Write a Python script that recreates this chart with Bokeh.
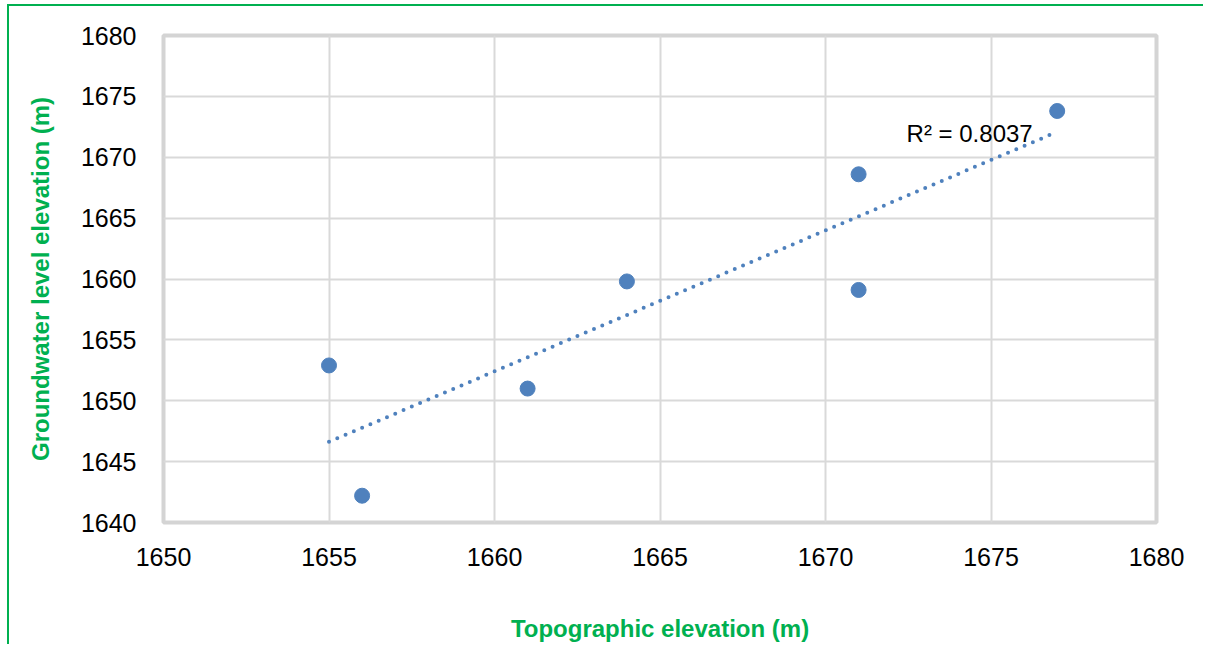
import numpy as np
from bokeh.plotting import figure
from bokeh.models import FixedTicker, Label, Range1d
from bokeh.embed import file_html
from bokeh.resources import INLINE

# data
topo = [1655, 1656, 1661, 1664, 1671, 1671, 1677]
gw = [1652.9, 1642.2, 1651.0, 1659.8, 1668.6, 1659.1, 1673.8]
x_ticks = [1650, 1655, 1660, 1665, 1670, 1675, 1680]
y_ticks = [1640, 1645, 1650, 1655, 1660, 1665, 1670, 1675, 1680]
r2_text = "R² = 0.8037"

GREEN = "#00B050"
BLUE = "#4F81BD"
FONT = "'Liberation Sans Narrow', 'Arial Narrow', 'Liberation Sans', Arial, sans-serif"
BOLD = "'Liberation Sans', Arial, sans-serif"

p = figure(width=1196, height=640, output_backend="svg", toolbar_location=None,
           x_range=Range1d(1650, 1680), y_range=Range1d(1640, 1680),
           min_border_left=154, min_border_right=49, min_border_top=29,
           min_border_bottom=124)
p.styles = {"border-top": f"2px solid {GREEN}", "border-left": f"2px solid {GREEN}",
            "margin-left": "7px", "margin-top": "4px"}

p.xaxis.ticker = FixedTicker(ticks=x_ticks)
p.yaxis.ticker = FixedTicker(ticks=y_ticks)
for ax in (p.xaxis[0], p.yaxis[0]):
    ax.axis_line_color = None
    ax.major_tick_line_color = None
    ax.minor_tick_line_color = None
    ax.major_label_text_font = FONT
    ax.major_label_text_font_size = "25px"
    ax.major_label_text_color = "black"
    ax.axis_label_text_font = BOLD
    ax.axis_label_text_font_style = "bold"
    ax.axis_label_text_font_size = "24px"
    ax.axis_label_text_color = GREEN

p.xaxis.major_label_standoff = 19
p.yaxis.major_label_standoff = 21
p.xaxis.axis_label = "Topographic elevation (m)"
p.yaxis.axis_label = "Groundwater level elevation (m)"
p.xaxis.axis_label_standoff = 46
p.yaxis.axis_label_standoff = 24

p.grid.grid_line_color = "#D9D9D9"
p.grid.grid_line_width = 2
p.outline_line_color = "#D4D4D4"
p.outline_line_width = 4
p.background_fill_color = "white"
p.border_fill_color = "white"

# trendline from least squares
slope, intercept = np.polyfit(topo, gw, 1)
tx = [min(topo), max(topo)]
ty = [slope * v + intercept for v in tx]
p.line(tx, ty, line_color=BLUE, line_width=4, line_dash="0 9", line_cap="round")

p.scatter(topo, gw, size=15, fill_color=BLUE, line_color=BLUE)

p.add_layout(Label(x=1672.45, y=1671.95, text=r2_text, text_font=FONT,
                   text_font_size="24px", text_color="black", text_baseline="middle",
                   text_align="left"))

open("out.html", "w").write(file_html(p, INLINE))
